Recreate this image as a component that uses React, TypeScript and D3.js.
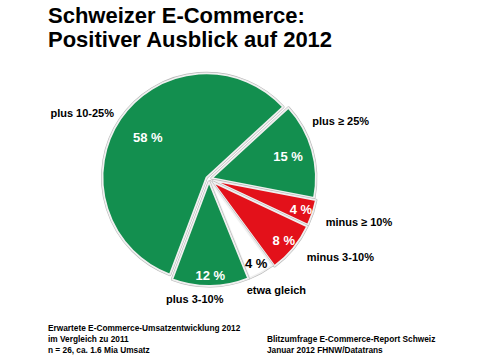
import React from "react";
import * as d3 from "d3";

// ---- data ----
const categories = ["plus ≥ 25%", "minus ≥ 10%", "minus 3-10%", "etwa gleich", "plus 3-10%", "plus 10-25%"];
const values = [15, 4, 8, 4, 12, 58];
const groups = ["pos", "neg", "neg", "neutral", "pos", "pos"];
const valueLabels = ["15 %", "4 %", "8 %", "4 %", "12 %", "58 %"];

const titleLines = ["Schweizer E-Commerce:", "Positiver Ausblick auf 2012"];
const footerLeft = ["Erwartete E-Commerce-Umsatzentwicklung 2012", "im Vergleich zu 2011", "n = 26, ca. 1.6 Mia Umsatz"];
const footerRight = ["Blitzumfrage E-Commerce-Report Schweiz", "Januar 2012 FHNW/Datatrans"];

// ---- layout / style ----
const W = 480, H = 360;
const cx = 209, cy = 179, R = 104;
const startDeg = 47.4;
const colors: Record<string, string> = { pos: "#138f4f", neg: "#e3111a", neutral: "#ffffff" };
const explode: Record<string, number> = { pos: 3, neg: 5, neutral: 3 };
// outer category label placement (angle nudge in degrees, distance from centre)
const outerNudge = [-8, -2, -8.5, -2, 7.5, -6.5];
const outerDist = [144, 156, 153, 130, 121, 143];
const FONT = "'Liberation Sans', Arial, Helvetica, sans-serif";

export default function App() {
  const rad = (d: number) => (d * Math.PI) / 180;
  const pie = d3
    .pie<number>()
    .sort(null)
    .value((d) => d)
    .startAngle(rad(startDeg))
    .endAngle(rad(startDeg + 360));
  const arcs = pie(values);
  const arc = d3.arc<d3.PieArcDatum<number>>().innerRadius(0).outerRadius(R);

  const polar = (angle: number, r: number) => [Math.sin(angle) * r, -Math.cos(angle) * r];

  const inLabelR = (v: number) => (v >= 50 ? 0.71 * R : v >= 15 ? 0.79 * R : 0.93 * R);

  return (
    <svg width={W} height={H} style={{ position: "absolute", left: 0, top: 0 }} fontFamily={FONT}>
      <rect width={W} height={H} fill="#ffffff" />
      {titleLines.map((t, i) => (
        <text key={t} x={48} y={22.5 + i * 24} fontSize={22} fontWeight="bold" fill="#000">
          {t}
        </text>
      ))}
      <g transform={`translate(${cx},${cy})`}>
        {arcs.map((a, i) => {
          const mid = (a.startAngle + a.endAngle) / 2;
          const [ox, oy] = polar(mid, explode[groups[i]]);
          return (
            <g key={i} transform={`translate(${ox},${oy})`}>
              <path d={arc(a) || ""} fill={colors[groups[i]]} stroke="#b8b8b8" strokeWidth={3} strokeLinejoin="round" />
              <path d={arc(a) || ""} fill={colors[groups[i]]} stroke="#f0f0f0" strokeWidth={1.8} strokeLinejoin="round" />
            </g>
          );
        })}
        {arcs.map((a, i) => {
          const mid = (a.startAngle + a.endAngle) / 2;
          const [x, y] = polar(mid, inLabelR(values[i]));
          return (
            <text
              key={"v" + i}
              x={x}
              y={y}
              dy="0.36em"
              textAnchor="middle"
              fontSize={13}
              fontWeight="bold"
              fill={groups[i] === "neutral" ? "#000" : "#fff"}
            >
              {valueLabels[i]}
            </text>
          );
        })}
        {arcs.map((a, i) => {
          const mid = (a.startAngle + a.endAngle) / 2 + rad(outerNudge[i]);
          const [x, y] = polar(mid, outerDist[i]);
          return (
            <text key={"c" + i} x={x} y={y} dy="0.36em" textAnchor="middle" fontSize={11} fontWeight="bold" fill="#000">
              {categories[i]}
            </text>
          );
        })}
      </g>
      {footerLeft.map((t, i) => (
        <text key={t} x={48} y={330.5 + i * 11} fontSize={8.3} fontWeight="bold" fill="#000">
          {t}
        </text>
      ))}
      {footerRight.map((t, i) => (
        <text key={t} x={267} y={341.5 + i * 11} fontSize={8.3} fontWeight="bold" fill="#000">
          {t}
        </text>
      ))}
    </svg>
  );
}
